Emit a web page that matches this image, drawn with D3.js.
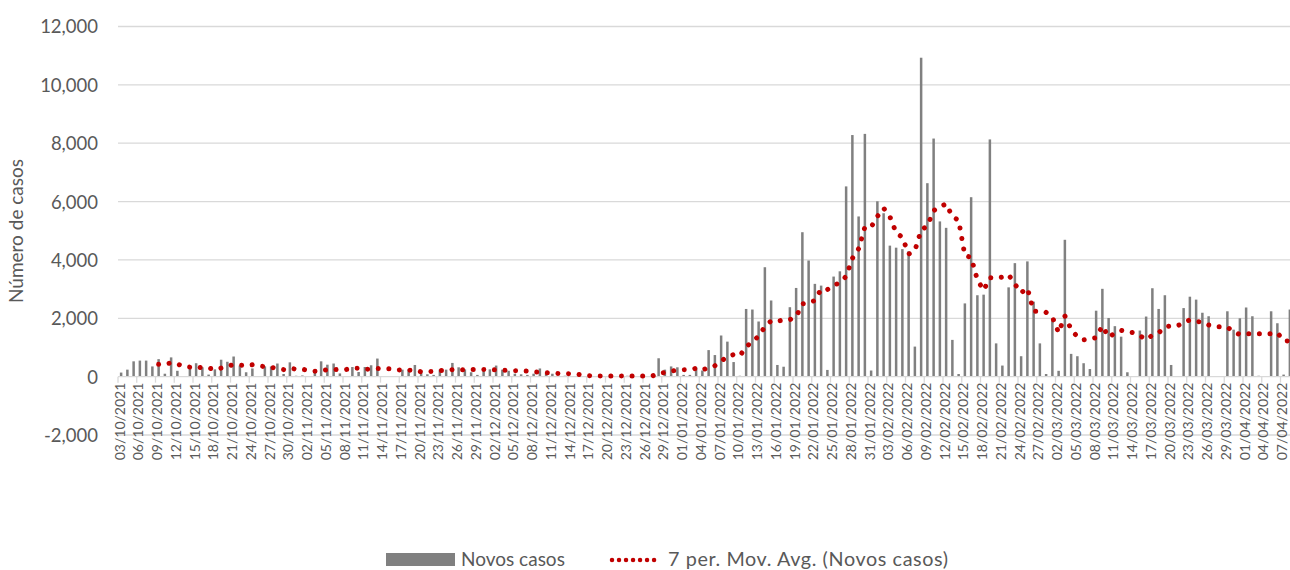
<!DOCTYPE html>
<html>
<head>
<meta charset="utf-8">
<script src="https://cdn.jsdelivr.net/npm/d3@7"></script>
<style>
  html, body { margin: 0; padding: 0; background: #ffffff; }
  svg { display: block; }
  text { font-family: Lato, "Open Sans", sans-serif; fill: #595959; }
</style>
</head>
<body>
<svg id="chart" width="1290" height="570"></svg>
<script>
// ---- data ----
const startDate = "03/10/2021";   // first day (dd/mm/yyyy)
const dayCount = 188;             // 03/10/2021 .. 08/04/2022
const novosCasos = [
  140,240,525,550,550,350,600,100,660,200,
  20,350,460,320,70,250,580,510,690,380,
  150,280,20,350,350,450,90,490,30,40,
  10,190,525,410,450,110,20,330,160,330,
  390,620,20,20,20,240,250,400,200,80,
  60,240,240,470,320,250,150,60,200,250,
  380,240,200,100,80,60,100,280,120,100,
  30,30,20,10,20,20,20,20,20,20,
  10,30,20,20,20,30,630,240,350,320,
  60,60,320,210,910,740,1410,1200,500,30,
  2320,2300,1890,3750,2610,400,340,2380,3040,4950,
  3980,3180,3120,230,3430,3610,6520,8280,5490,8320,
  210,6010,5600,4490,4420,4370,4300,1030,10930,6630,
  8160,5320,5100,1260,90,2510,6150,2790,2810,8130,
  1140,380,3060,3890,700,3950,2570,1140,90,1920,
  200,4690,780,700,460,260,2260,3010,2010,1730,
  1370,150,0,1580,2060,3030,2320,2790,400,0,
  2350,2740,2640,2190,2070,0,0,2240,1610,2000,
  2370,2070,30,0,2240,1830,70,2300
];
const yTicks = [-2000, 0, 2000, 4000, 6000, 8000, 10000, 12000];
const maPeriod = 7;
const seriesNames = ["Novos casos", "7 per. Mov. Avg. (Novos casos)"];
const yTitle = "Número de casos";

// ---- derived categories ----
const parse = d3.timeParse("%d/%m/%Y");
const fmtDate = d3.timeFormat("%d/%m/%Y");
const d0 = parse(startDate);
const dates = d3.range(dayCount).map(i => fmtDate(d3.timeDay.offset(d0, i)));
const labelDates = dates.filter((d, i) => i % 3 === 0);

// moving average (trendline): mean of the previous 7 values
const ma = novosCasos.map((v, i) => i < maPeriod - 1 ? null
  : d3.mean(novosCasos.slice(i - maPeriod + 1, i + 1)));

// ---- layout ----
const svg = d3.select("#chart");
const left = 118, band = 6.25;
const x = d3.scaleBand().domain(dates).range([left, left + band * dayCount]).paddingInner(0.6).paddingOuter(0.3);
const y = d3.scaleLinear().domain([-2000, 12000]).range([435, 26.5]);
const xc = d => x(d) + x.bandwidth() / 2;
const plotRight = 1293;
const locale = d3.formatLocale({ decimal: ".", thousands: ",", grouping: [3], currency: ["", ""], minus: "-" });

// gridlines
svg.append("g").selectAll("line").data(yTicks.filter(t => t !== 0)).join("line")
  .attr("x1", left).attr("x2", plotRight)
  .attr("y1", d => y(d)).attr("y2", d => y(d))
  .attr("stroke", "#d9d9d9").attr("stroke-width", 1.3);

// y axis labels
const yAxis = d3.axisLeft(y).tickValues(yTicks).tickSize(0).tickPadding(0)
  .tickFormat(locale.format(","));
const gy = svg.append("g").attr("transform", `translate(${left - 20},0)`).call(yAxis);
gy.select(".domain").remove();
gy.selectAll("text").attr("font-size", 18.5).attr("fill", "#595959")
  .style("font-family", "Lato, sans-serif").attr("dy", "0.35em");

// y title
svg.append("text").attr("transform", "translate(23,231) rotate(-90)")
  .attr("text-anchor", "middle").attr("font-size", 19).text(yTitle);

// bars
svg.append("g").selectAll("rect").data(novosCasos).join("rect")
  .attr("x", (d, i) => x(dates[i]))
  .attr("width", x.bandwidth())
  .attr("y", d => y(Math.max(0, d)))
  .attr("height", d => Math.abs(y(d) - y(0)))
  .attr("fill", "#808080");

// x axis line + ticks + labels
const gx = svg.append("g");
gx.append("line").attr("x1", left).attr("x2", plotRight)
  .attr("y1", y(0)).attr("y2", y(0)).attr("stroke", "#d9d9d9").attr("stroke-width", 1.3);
const tickX = d3.range(0, dayCount + 1, 3).map(i => left + band * i);
gx.selectAll("line.tk").data(tickX).join("line").attr("class", "tk")
  .attr("x1", d => d).attr("x2", d => d)
  .attr("y1", y(0)).attr("y2", y(0) + 6)
  .attr("stroke", "#d9d9d9").attr("stroke-width", 1.3);
gx.selectAll("text").data(labelDates).join("text")
  .attr("transform", d => `translate(${xc(d) + 3.6},${y(0) + 6}) rotate(-90)`)
  .attr("text-anchor", "end").attr("font-size", 14).text(d => d);

// moving average line (round dots)
const line = d3.line().defined(d => d.v != null).x(d => xc(d.k)).y(d => y(d.v));
svg.append("path")
  .datum(ma.map((v, i) => ({ k: dates[i], v })))
  .attr("d", line).attr("fill", "none")
  .attr("stroke", "#c00000").attr("stroke-width", 5)
  .attr("stroke-linecap", "round").attr("stroke-dasharray", "0.01 10.6");

// legend
const lg = svg.append("g");
lg.append("rect").attr("x", 386).attr("y", 553).attr("width", 69).attr("height", 13).attr("fill", "#808080");
lg.append("text").attr("x", 461).attr("y", 566).attr("font-size", 19).text(seriesNames[0]);
lg.append("line").attr("x1", 612).attr("x2", 661).attr("y1", 560).attr("y2", 560)
  .attr("stroke", "#c00000").attr("stroke-width", 4.5).attr("stroke-linecap", "round")
  .attr("stroke-dasharray", "0.01 7");
lg.append("text").attr("x", 668).attr("y", 566).attr("font-size", 19.8)
  .attr("letter-spacing", 0.6).text(seriesNames[1]);
</script>
</body>
</html>
